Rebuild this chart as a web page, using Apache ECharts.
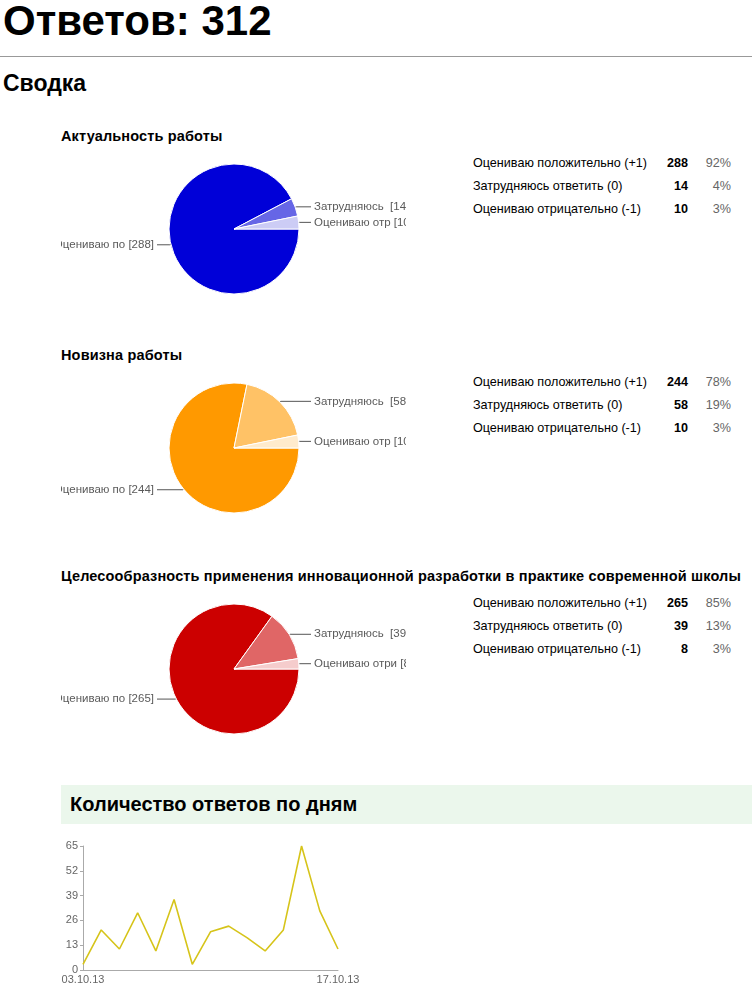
<!DOCTYPE html>
<html>
<head>
<meta charset="utf-8">
<script src="https://cdn.jsdelivr.net/npm/echarts/dist/echarts.min.js"></script>
<style>
  body { margin: 0; width: 752px; height: 992px; position: relative; overflow: hidden;
         font-family: Arial, "Liberation Sans", sans-serif; background: #fff; }
  h1 { position: absolute; left: 3px; top: 0px; margin: 0; font-size: 42px; line-height: 42px; font-weight: bold; }
  .rule { position: absolute; left: 0; top: 56px; width: 752px; height: 1px; background: #999; }
  h2 { position: absolute; left: 3px; top: 72px; margin: 0; font-size: 23px; line-height: 23px; font-weight: bold; }
  .qtitle { position: absolute; left: 61px; font-size: 14.5px; line-height: 15px; font-weight: bold;
            letter-spacing: 0.15px; white-space: nowrap; }
  .clip { position: absolute; left: 61px; width: 345px; height: 150px; overflow: hidden; }
  .clip .pie { position: absolute; left: -100px; top: 0; width: 600px; height: 150px; }
  .row { position: absolute; left: 473px; width: 260px; height: 16px; font-size: 12.6px; line-height: 16px; white-space: nowrap; }
  .row .lbl { position: absolute; left: 0; }
  .row .cnt { position: absolute; right: 45px; font-weight: bold; }
  .row .pct { position: absolute; right: 2px; color: #666; }
  .band { position: absolute; left: 61px; top: 785px; width: 691px; height: 39px; background: #ebf7ec; }
  .band span { position: absolute; left: 9px; top: 9px; font-size: 20px; line-height: 20px; font-weight: bold; white-space: nowrap; }
  #daily { position: absolute; left: 40px; top: 830px; width: 360px; height: 162px; }
</style>
</head>
<body>
<h1>Ответов: 312</h1>
<div class="rule"></div>
<h2>Сводка</h2>
<div id="blocks"></div>
<div class="band"><span>Количество ответов по дням</span></div>
<div id="daily"></div>
<script>
// вопросы и ответы
const questions = [
  'Актуальность работы',
  'Новизна работы',
  'Целесообразность применения инновационной разработки в практике современной школы'
];
const answers = ['Оцениваю положительно (+1)', 'Затрудняюсь ответить (0)', 'Оцениваю отрицательно (-1)'];
const actualValues = [288, 14, 10];
const noveltyValues = [244, 58, 10];
const feasibilityValues = [265, 39, 8];
// подписи на диаграммах (обрезанные, как в оригинале)
const shortNames1 = ['Оцениваю по', 'Затрудняюсь ', 'Оцениваю отр'];
const shortNames2 = ['Оцениваю по', 'Затрудняюсь ', 'Оцениваю отр'];
const shortNames3 = ['Оцениваю по', 'Затрудняюсь ', 'Оцениваю отри'];
const blueColors = ['#0000d8', '#6666e6', '#ccccf5'];
const orangeColors = ['#ff9900', '#ffc266', '#ffebcc'];
const redColors = ['#cc0000', '#e06666', '#f5cccc'];

// ответы по дням
const days = ['03.10.13', '04.10.13', '05.10.13', '06.10.13', '07.10.13', '08.10.13', '09.10.13',
  '10.10.13', '11.10.13', '12.10.13', '13.10.13', '14.10.13', '15.10.13', '16.10.13', '17.10.13'];
const dailyCounts = [3, 21, 11, 30, 10, 37, 3, 20, 23, 17, 10, 21, 65, 31, 11];

const blocks = [
  { values: actualValues, names: shortNames1, colors: blueColors, top: 129 },
  { values: noveltyValues, names: shortNames2, colors: orangeColors, top: 348 },
  { values: feasibilityValues, names: shortNames3, colors: redColors, top: 569 }
];

const R = 65;
const holder = document.getElementById('blocks');
blocks.forEach((b, qi) => {
  const total = b.values.reduce((a, v) => a + v, 0);

  const t = document.createElement('div');
  t.className = 'qtitle';
  t.style.top = b.top + 'px';
  t.textContent = questions[qi];
  holder.appendChild(t);

  answers.forEach((a, i) => {
    const r = document.createElement('div');
    r.className = 'row';
    r.style.top = (b.top + 26 + i * 23) + 'px';
    r.innerHTML = '<span class="lbl"></span><span class="cnt"></span><span class="pct"></span>';
    r.children[0].textContent = a;
    r.children[1].textContent = b.values[i];
    r.children[2].textContent = Math.round(b.values[i] / total * 100) + '%';
    holder.appendChild(r);
  });

  const clip = document.createElement('div');
  clip.className = 'clip';
  clip.style.top = (b.top + 25) + 'px';
  const el = document.createElement('div');
  el.className = 'pie';
  clip.appendChild(el);
  holder.appendChild(clip);

  // label lines end in one column on each side, like the original
  let acc = 0;
  const data = b.values.map((v, i) => {
    const mid = (acc + v / 2) / total * 2 * Math.PI;
    acc += v;
    const dx = Math.abs(Math.cos(mid));
    const len2 = (R + 12) - (R + 1) * dx;
    return {
      value: v,
      name: answers[i],
      itemStyle: { color: b.colors[i] },
      labelLine: { length: 1, length2: Math.max(len2, 2) }
    };
  });

  const chart = echarts.init(el);
  chart.setOption({
    animation: false,
    series: [{
      type: 'pie',
      center: [273, 75],
      radius: R,
      startAngle: 0,
      clockwise: true,
      avoidLabelOverlap: true,
      itemStyle: { borderColor: '#fff', borderWidth: 1 },
      label: {
        show: true,
        position: 'outside',
        alignTo: 'none',
        distanceToLabelLine: 3,
        fontFamily: 'Arial, "Liberation Sans", sans-serif',
        fontSize: 11.5,
        color: '#5a5a5a',
        formatter: p => b.names[p.dataIndex] + ' [' + p.value + ']'
      },
      labelLine: { show: true, length: 1, length2: 10, lineStyle: { color: '#555', width: 1 } },
      emphasis: { disabled: true },
      data: data
    }]
  });
});

const daily = echarts.init(document.getElementById('daily'));
daily.setOption({
  animation: false,
  grid: { left: 43, top: 16, width: 255, height: 124 },
  xAxis: {
    type: 'category',
    data: days,
    boundaryGap: false,
    axisLine: { lineStyle: { color: '#aaa' } },
    axisTick: { show: false },
    axisLabel: {
      interval: i => i === 0 || i === days.length - 1,
      showMinLabel: true,
      showMaxLabel: true,
      margin: 4,
      color: '#666',
      fontSize: 11,
      fontFamily: 'Arial, "Liberation Sans", sans-serif'
    }
  },
  yAxis: {
    type: 'value',
    min: 0,
    max: 65,
    interval: 13,
    axisLine: { show: true, lineStyle: { color: '#aaa' } },
    axisTick: { show: true, length: 3, lineStyle: { color: '#aaa' } },
    splitLine: { show: false },
    axisLabel: {
      margin: 5,
      color: '#666',
      fontSize: 11,
      fontFamily: 'Arial, "Liberation Sans", sans-serif'
    }
  },
  series: [{
    type: 'line',
    data: dailyCounts,
    showSymbol: false,
    lineStyle: { color: '#d6c41a', width: 1.6 },
    itemStyle: { color: '#d6c41a' }
  }]
});
</script>
</body>
</html>
